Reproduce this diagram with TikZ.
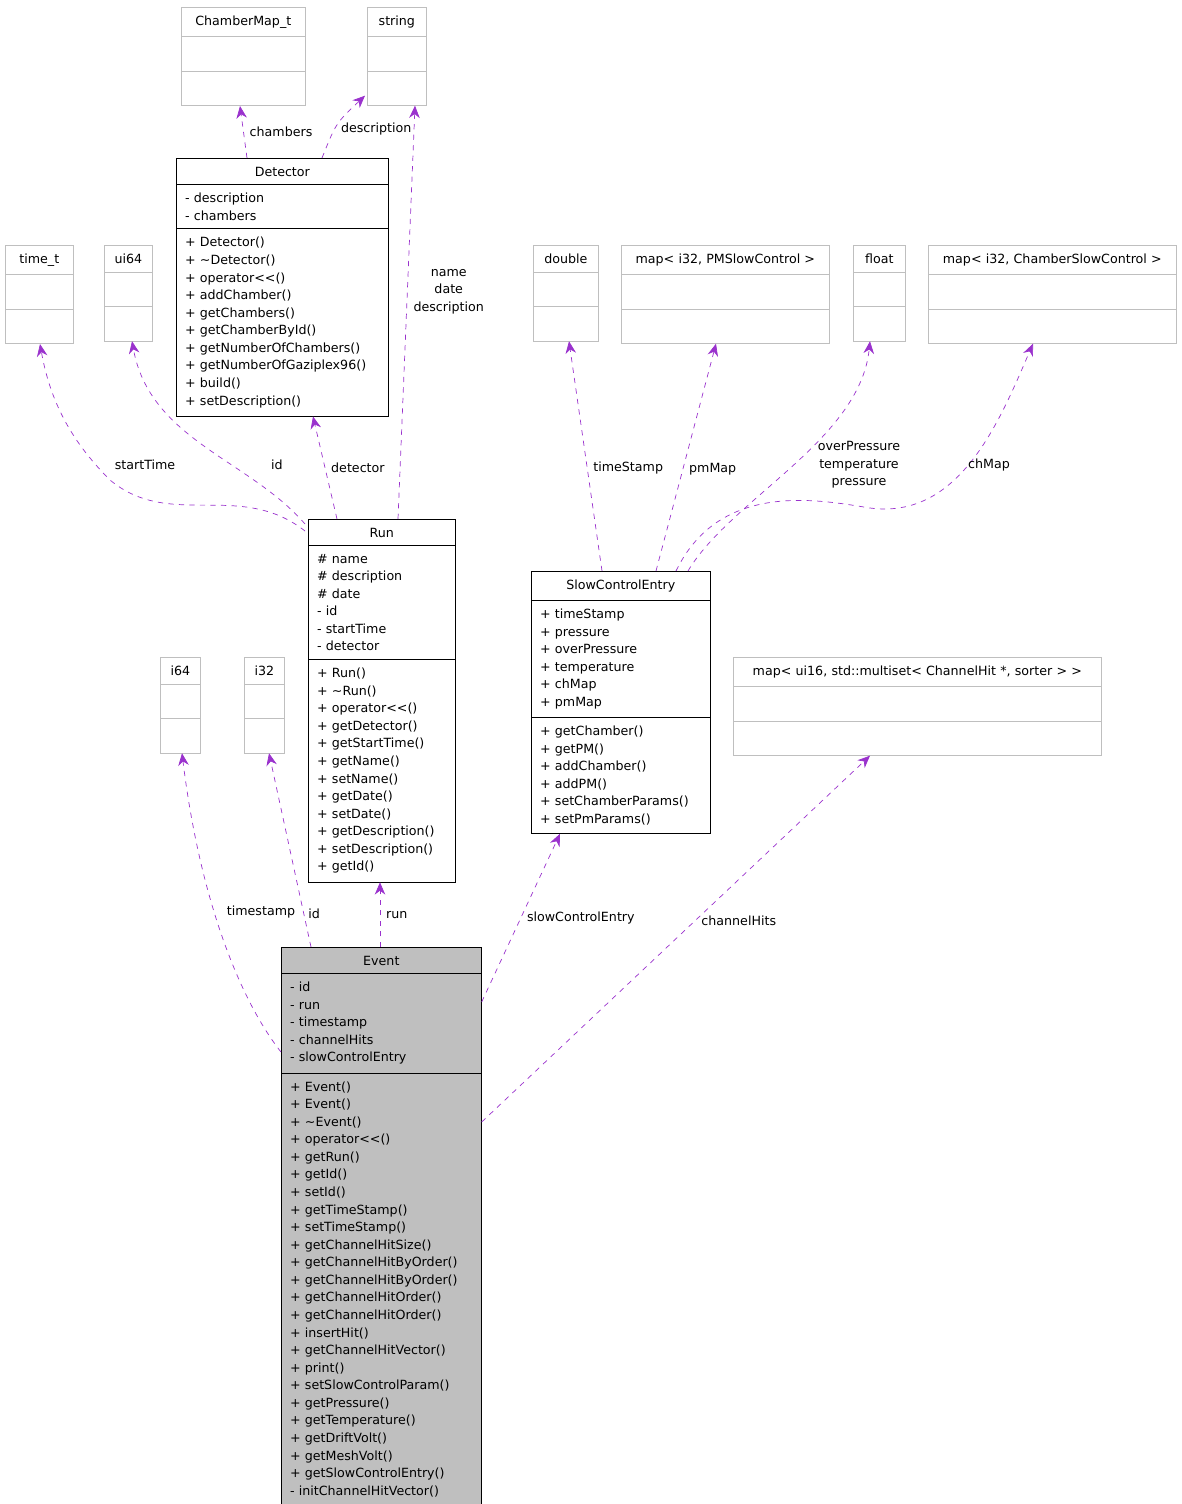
\documentclass[tikz,border=0pt]{standalone}
\usepackage{fontspec}
\setmainfont{DejaVu Sans}
\usetikzlibrary{shapes.multipart}
\usetikzlibrary{arrows.meta}
\usetikzlibrary{calc}
\definecolor{umlgray}{HTML}{BFBFBF}
\definecolor{umlpurple}{HTML}{9A32CD}
\newcommand\clsfont{\fontsize{7.2}{10}\selectfont}
\newcommand\ttl[1]{\makebox[\linewidth][c]{#1}}
\tikzset{
  cls/.style={rectangle split, rectangle split parts=3, draw, anchor=north west,
    align=left, font=\clsfont, inner xsep=0.175cm, inner ysep=4.6pt, text width=#1},
  ext/.style={cls=#1, draw=umlgray},
  dep/.style={draw=umlpurple, dashed, -{Stealth[length=7pt,width=6pt]}},
  lbl/.style={font=\clsfont, align=center}
}

\begin{document}
\begin{tikzpicture}[x=0.02cm, y=-0.02cm]
    \useasboundingbox (0,0) rectangle (1181,1504);
    % used classes
    \node [ext=2.13cm] (cm) at (181,7) {\ttl{ChamberMap\_t}\nodepart{two}\strut\nodepart{three}\strut};
    \node [ext=0.83cm] (str) at (367,7) {\ttl{string}\nodepart{two}\strut\nodepart{three}\strut};
    \node [ext=1.01cm] (tt) at (5,245) {\ttl{time\_t}\nodepart{two}\strut\nodepart{three}\strut};
    \node [ext=0.61cm] (u64) at (104,245) {\ttl{ui64}\nodepart{two}\strut\nodepart{three}\strut};
    \node [ext=0.95cm] (dbl) at (533,245) {\ttl{double}\nodepart{two}\strut\nodepart{three}\strut};
    \node [ext=3.81cm] (pmm) at (621,245) {\ttl{map< i32, PMSlowControl >}\nodepart{two}\strut\nodepart{three}\strut};
    \node [ext=0.69cm] (flt) at (853,245) {\ttl{float}\nodepart{two}\strut\nodepart{three}\strut};
    \node [ext=4.61cm] (chm) at (928,245) {\ttl{map< i32, ChamberSlowControl >}\nodepart{two}\strut\nodepart{three}\strut};
    \node [ext=0.45cm] (i64) at (160,657) {\ttl{i64}\nodepart{two}\strut\nodepart{three}\strut};
    \node [ext=0.45cm] (i32) at (244,657) {\ttl{i32}\nodepart{two}\strut\nodepart{three}\strut};
    \node [ext=7.01cm] (hm) at (733,657) {\ttl{map< ui16, std::multiset< ChannelHit *, sorter > >}\nodepart{two}\strut\nodepart{three}\strut};
    % main classes
    \node [cls=3.89cm] (det) at (176,158) {\ttl{Detector}
      \nodepart{two}- description\\- chambers
      \nodepart{three}+ Detector()\\+ \textasciitilde Detector()\\+ operator<{}<()\\+ addChamber()\\+ getChambers()\\+ getChamberById()\\+ getNumberOfChambers()\\+ getNumberOfGaziplex96()\\+ build()\\+ setDescription()};
    \node [cls=2.59cm] (run) at (308,519) {\ttl{Run}
      \nodepart{two}\# name\\\# description\\\# date\\- id\\- startTime\\- detector
      \nodepart{three}+ Run()\\+ \textasciitilde Run()\\+ operator<{}<()\\+ getDetector()\\+ getStartTime()\\+ getName()\\+ setName()\\+ getDate()\\+ setDate()\\+ getDescription()\\+ setDescription()\\+ getId()};
    \node [cls=3.23cm] (sce) at (531,571) {\ttl{SlowControlEntry}
      \nodepart{two}+ timeStamp\\+ pressure\\+ overPressure\\+ temperature\\+ chMap\\+ pmMap
      \nodepart{three}+ getChamber()\\+ getPM()\\+ addChamber()\\+ addPM()\\+ setChamberParams()\\+ setPmParams()};
    \node [cls=3.65cm, fill=umlgray] (ev) at (281,947) {\ttl{Event}
      \nodepart{two}- id\\- run\\- timestamp\\- channelHits\\- slowControlEntry
      \nodepart{three}+ Event()\\+ Event()\\+ \textasciitilde Event()\\+ operator<{}<()\\+ getRun()\\+ getId()\\+ setId()\\+ getTimeStamp()\\+ setTimeStamp()\\+ getChannelHitSize()\\+ getChannelHitByOrder()\\+ getChannelHitByOrder()\\+ getChannelHitOrder()\\+ getChannelHitOrder()\\+ insertHit()\\+ getChannelHitVector()\\+ print()\\+ setSlowControlParam()\\+ getPressure()\\+ getTemperature()\\+ getDriftVolt()\\+ getMeshVolt()\\+ getSlowControlEntry()\\- initChannelHitVector()};
    % dependencies
    \draw [dep] ($(det.north west)+(71,0)$) -- ($(cm.south west)+(59,0)$) node [lbl, pos=0.5, right] {chambers};
    \draw [dep] ($(det.north west)+(146,0)$) .. controls ($(det.north west)+(160,-35)$) .. ($(str.south west)+(-2,-10)$) node [lbl, pos=0.4, right] {description};
    \draw [dep] ($(run.north west)+(90,0)$) -- ($(str.south west)+(48,0)$) node [lbl, pos=0.55, right] {name\\date\\description};
    \draw [dep] ($(run.north west)+(29,0)$) -- ($(det.south west)+(137,0)$) node [lbl, pos=0.5, right] {detector};
    \draw [dep] ($(run.north west)+(-3,5)$) .. controls (250,460) and (150,440) .. ($(u64.south west)+(28,0)$);
    \node [lbl] (lid) at (277,465) {id};
    \draw [dep] ($(run.north west)+(-3,12)$) .. controls (240,480) and (170,530) .. (110,480) .. controls (70,440) and (50,400) .. ($(tt.south west)+(35,0)$);
    \node [lbl] (lst) at (145,465) {startTime};
    \draw [dep] ($(sce.north west)+(71,0)$) -- ($(dbl.south west)+(36,0)$) node [lbl, pos=0.45, right] {timeStamp};
    \draw [dep] ($(sce.north west)+(125,0)$) -- ($(pmm.south west)+(95,0)$) node [lbl, pos=0.45, right] {pmMap};
    \draw [dep] ($(sce.north west)+(157,0)$) .. controls (730,500) and (860,440) .. ($(flt.south west)+(17,0)$);
    \node [lbl] (lop) at (859,465) {overPressure\\temperature\\pressure};
    \draw [dep] ($(sce.north west)+(145,0)$) .. controls (720,480) and (820,500) .. (870,508) .. controls (960,520) and (1000,420) .. ($(chm.south west)+(105,0)$);
    \node [lbl] (lch) at (989,465) {chMap};
    \draw [dep] ($(ev.north west)+(0,105)$) .. controls (240,1000) and (200,900) .. ($(i64.south west)+(22,0)$);
    \node [lbl] (lts) at (261,912) {timestamp};
    \draw [dep] ($(ev.north west)+(30,0)$) -- ($(i32.south west)+(25,0)$) node [lbl, pos=0.17, right=-1pt] {id};
    \draw [dep] ($(ev.north west)+(99,0)$) -- ($(run.south west)+(72,0)$) node [lbl, pos=0.5, right] {run};
    \draw [dep] ($(ev.north east)+(0,55)$) -- ($(sce.south west)+(29,0)$) node [lbl, pos=0.5, right] {slowControlEntry};
    \draw [dep] ($(ev.north east)+(0,175)$) -- ($(hm.south west)+(137,0)$) node [lbl, pos=0.55, right] {channelHits};
\end{tikzpicture}
\end{document}
